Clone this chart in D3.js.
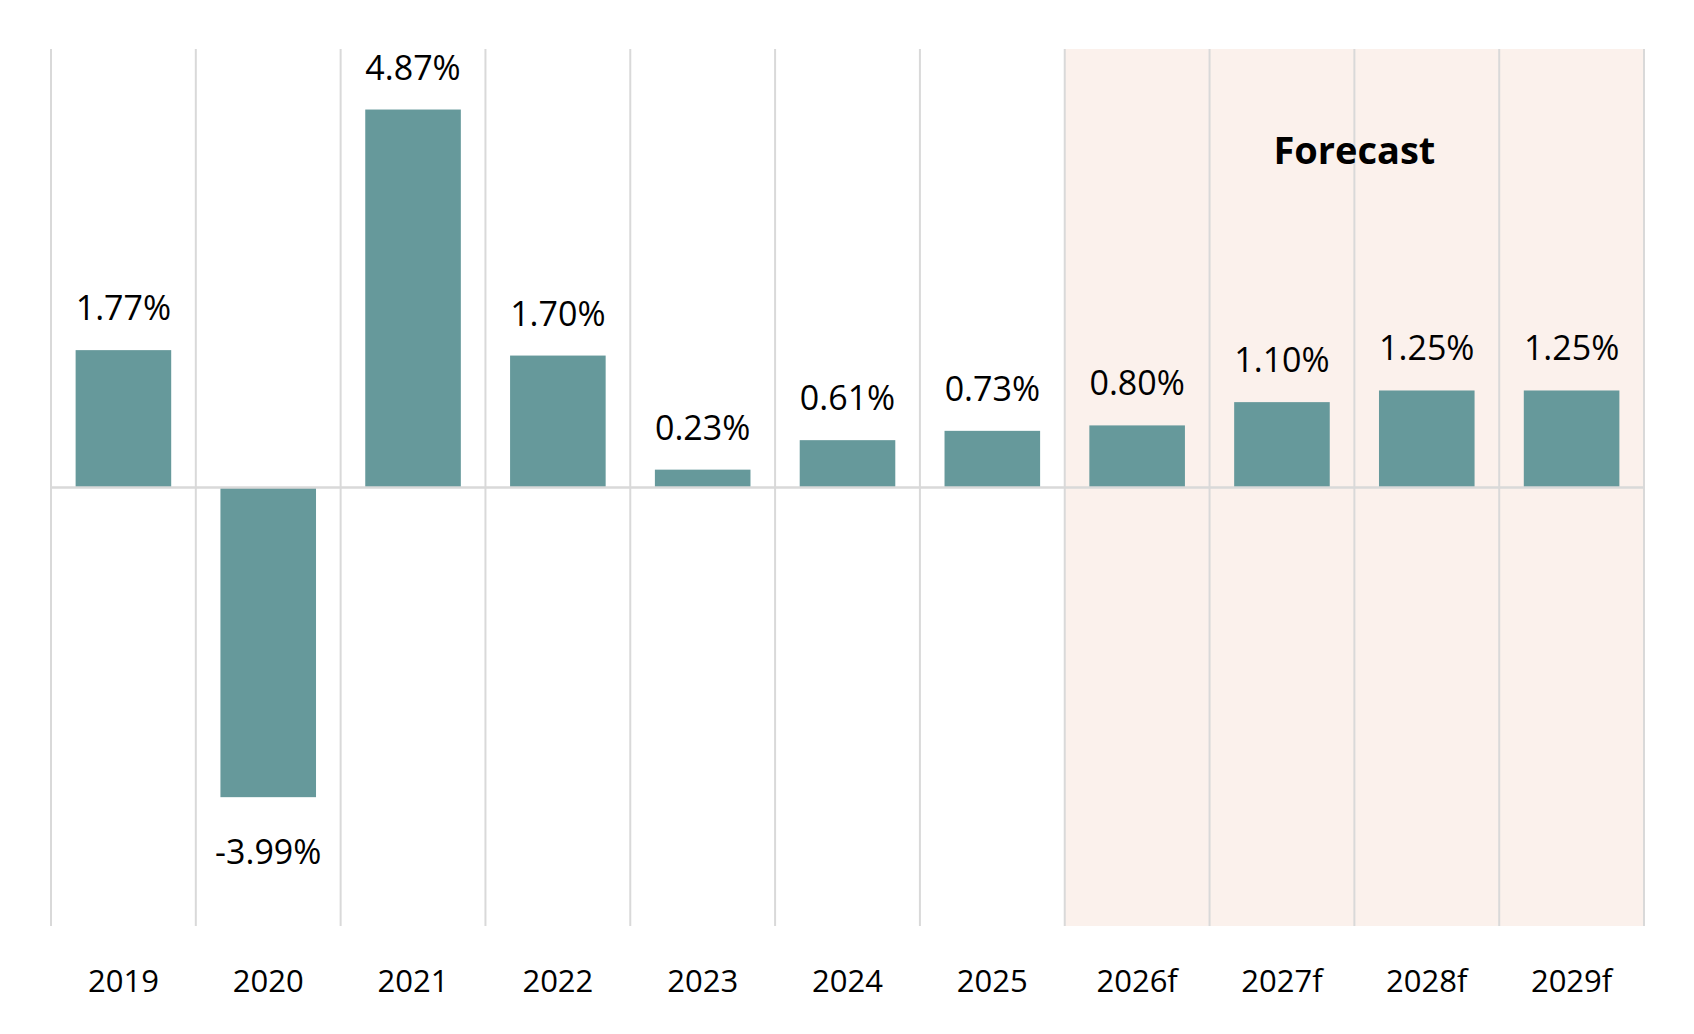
<!DOCTYPE html>
<html><head><meta charset="utf-8">
<script src="https://cdn.jsdelivr.net/npm/d3@7"></script>
<style>body{margin:0;background:#fff}text{font-family:"Open Sans",sans-serif}</style>
</head><body><svg id="c" width="1694" height="1034"></svg>
<script>
const years = ['2019','2020','2021','2022','2023','2024','2025','2026f','2027f','2028f','2029f'];
const growth = [1.77,-3.99,4.87,1.70,0.23,0.61,0.73,0.80,1.10,1.25,1.25];
const forecastYears = ['2026f','2027f','2028f','2029f'];

const svg = d3.select('#c');
const x = d3.scaleBand().domain(years).range([51, 1644]);
const y = d3.scaleLinear().domain([-5.65, 5.65]).range([926, 49]);

// forecast shading
svg.append('rect')
  .attr('x', x(forecastYears[0])).attr('y', y(5.65))
  .attr('width', x.bandwidth() * forecastYears.length)
  .attr('height', y(-5.65) - y(5.65))
  .attr('fill', '#fbf1ec');

// vertical separators
const edges = years.map(d => x(d)).concat([x.range()[1]]);
svg.selectAll('line.v').data(edges).enter().append('line')
  .attr('x1', d => d).attr('x2', d => d)
  .attr('y1', y(5.65)).attr('y2', y(-5.65))
  .attr('stroke', '#d9d9d9').attr('stroke-width', 2);

const bw = x.bandwidth() * 0.66;
svg.selectAll('rect.bar').data(growth).enter().append('rect')
  .attr('x', (d, i) => x(years[i]) + (x.bandwidth() - bw) / 2)
  .attr('y', d => y(Math.max(0, d)))
  .attr('width', bw)
  .attr('height', d => Math.abs(y(d) - y(0)))
  .attr('fill', '#66999b');

// zero line
svg.append('line')
  .attr('x1', x.range()[0]).attr('x2', x.range()[1])
  .attr('y1', y(0)).attr('y2', y(0))
  .attr('stroke', '#d9d9d9').attr('stroke-width', 2.5);

svg.selectAll('text.val').data(growth).enter().append('text')
  .attr('x', (d, i) => x(years[i]) + x.bandwidth() / 2)
  .attr('y', d => d >= 0 ? y(d) - 30 : y(d) + 67)
  .attr('text-anchor', 'middle').attr('font-size', 34).attr('fill', '#000')
  .text(d => d.toFixed(2) + '%');

svg.selectAll('text.cat').data(years).enter().append('text')
  .attr('x', d => x(d) + x.bandwidth() / 2).attr('y', 992)
  .attr('text-anchor', 'middle').attr('font-size', 31).attr('fill', '#000')
  .text(d => d);

svg.append('text')
  .attr('x', x('2027f') + x.bandwidth()).attr('y', 164)
  .attr('text-anchor', 'middle').attr('font-size', 38).attr('font-weight', 'bold')
  .text('Forecast');
</script></body></html>
